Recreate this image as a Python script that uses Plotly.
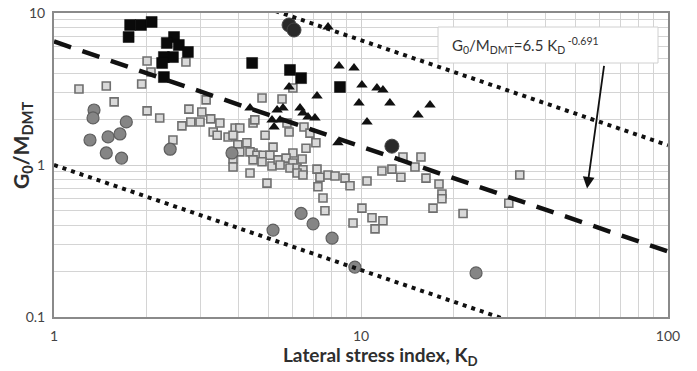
import math
import numpy as np
import plotly.graph_objects as go

# Lateral stress index K_D and stiffness ratio G0/M_DMT, per data group
sq_black_kd = [1.77, 1.92, 2.08, 1.75, 2.46, 2.33, 2.55, 2.73, 2.44, 2.28, 2.25, 2.28,
               4.42, 5.87, 6.38, 8.54]
sq_black_g = [8.34, 8.34, 8.73, 6.95, 6.95, 6.35, 6.16, 5.54, 5.13, 5.13, 4.69, 3.79,
              4.69, 4.22, 3.73, 3.26]

tri_kd = [7.81, 8.48, 9.49, 10.07, 11.27, 11.79, 9.85, 12.42, 16.78, 15.34, 10.46, 7.19,
          5.83, 4.35, 5.33, 5.57, 6.33, 6.47, 6.72, 7.08, 5.13, 5.45, 5.21, 8.41]
tri_g = [8.09, 4.48, 4.35, 3.36, 3.21, 3.11, 2.56, 2.56, 2.48, 2.13, 1.92, 2.84,
         3.26, 2.37, 2.30, 2.37, 2.37, 2.20, 2.07, 2.04, 1.98, 1.98, 1.78, 1.40]

circ_gray_kd = [1.35, 1.34, 1.72, 1.31, 1.50, 1.64, 1.48, 1.66, 2.39, 3.80,
                6.38, 6.98, 5.17, 8.05, 9.55, 23.7]
circ_gray_g = [2.30, 2.04, 1.92, 1.46, 1.53, 1.60, 1.20, 1.11, 1.27, 1.20,
               0.48, 0.41, 0.373, 0.33, 0.213, 0.195]

circ_dark_kd = [5.83, 6.05, 12.61]
circ_dark_g = [8.34, 7.73, 1.33]

sq_open_kd = [1.206, 1.48, 1.57, 1.93, 2.01, 2.07, 2.69, 2.01, 2.21, 2.75, 3.13, 3.03,
              2.61, 2.44, 2.79, 2.99, 3.24, 3.47, 3.30, 3.40, 3.69, 3.89, 4.03, 3.83,
              4.25, 4.45, 4.76, 5.53, 6.00, 5.83, 5.17, 4.87, 5.74, 6.52, 6.82, 7.13,
              6.62, 6.00, 6.43, 4.45, 3.97, 4.03, 4.35, 4.58, 4.80, 5.05, 3.83, 3.83,
              4.45, 4.76, 5.13, 5.37, 5.70, 6.00, 5.45, 5.87, 6.19, 6.47, 6.19, 6.47,
              4.35, 4.94, 7.19, 7.35, 7.81, 8.23, 8.87, 9.21, 7.24, 7.52, 7.63, 10.46,
              10.07, 9.42, 10.86, 11.79, 11.11, 13.70, 15.68, 11.70, 12.61, 14.99, 13.49,
              16.28, 17.95, 18.35, 18.35, 17.16, 21.5, 30.3, 32.9, 4.51]
sq_open_g = [3.16, 3.31, 2.60, 3.41, 4.83, 4.09, 4.76, 2.27, 2.04, 2.33, 2.68, 2.23,
             1.81, 1.46, 1.92, 1.92, 2.01, 1.89, 1.65, 1.57, 1.53, 1.75, 1.75, 1.57,
             1.40, 1.89, 2.76, 2.72, 3.21, 1.65, 1.31, 1.57, 1.89, 1.78, 1.62, 1.40,
             1.29, 1.20, 1.095, 1.20, 1.36, 1.22, 1.22, 1.16, 1.16, 1.16, 1.095, 0.97,
             1.08, 1.05, 0.985, 1.08, 1.11, 1.03, 1.0, 0.955, 0.955, 0.93, 0.886, 0.86,
             0.886, 0.76, 0.94, 0.83, 0.86, 0.847, 0.82, 0.73, 0.72, 0.607, 0.50, 0.785,
             0.52, 0.415, 0.45, 0.43, 0.38, 1.13, 1.13, 0.914, 0.94, 0.97, 0.83,
             0.82, 0.75, 0.644, 0.60, 0.52, 0.48, 0.56, 0.86, 1.98]

# Correlation G0/M_DMT = 6.5 K_D^-0.691 and its bounding envelopes
fit_coef = 6.5
fit_exp = -0.691
upper_coef = 32.5
lower_coef = 1.0

kd_line = np.logspace(0, 2, 200)

fig = go.Figure()

fig.add_trace(go.Scatter(
    x=sq_open_kd, y=sq_open_g, mode="markers",
    marker=dict(symbol="square", size=8, color="#d9d9d9",
                line=dict(color="#6f6f6f", width=1.6))))
fig.add_trace(go.Scatter(
    x=circ_gray_kd, y=circ_gray_g, mode="markers",
    marker=dict(symbol="circle", size=12, color="#858585",
                line=dict(color="#5f5f5f", width=1.2))))
fig.add_trace(go.Scatter(
    x=tri_kd, y=tri_g, mode="markers",
    marker=dict(symbol="triangle-up", size=10, color="#111111",
                line=dict(color="#111111", width=0))))
fig.add_trace(go.Scatter(
    x=sq_black_kd, y=sq_black_g, mode="markers",
    marker=dict(symbol="square", size=11, color="#0a0a0a",
                line=dict(color="#0a0a0a", width=0.5))))
fig.add_trace(go.Scatter(
    x=circ_dark_kd, y=circ_dark_g, mode="markers",
    marker=dict(symbol="circle", size=14, color="#2a2a2a",
                line=dict(color="#444444", width=1))))

fig.add_trace(go.Scatter(
    x=kd_line, y=upper_coef * kd_line ** fit_exp, mode="lines",
    line=dict(color="#111111", width=4, dash="4px,5px")))
fig.add_trace(go.Scatter(
    x=kd_line, y=lower_coef * kd_line ** fit_exp, mode="lines",
    line=dict(color="#111111", width=4, dash="4px,5px")))
fig.add_trace(go.Scatter(
    x=kd_line, y=fit_coef * kd_line ** fit_exp, mode="lines",
    line=dict(color="#111111", width=4.5, dash="18px,12px")))

minor_x = [2, 3, 4, 5, 6, 7, 8, 9, 20, 30, 40, 50, 60, 70, 80, 90]
minor_y = [0.2, 0.3, 0.4, 0.5, 0.6, 0.7, 0.8, 0.9, 2, 3, 4, 5, 6, 7, 8, 9]

font_family = "Lato, Open Sans, sans-serif"

fig.update_xaxes(
    type="log", range=[0, 2], automargin=False,
    tickvals=[1, 10, 100], ticktext=["1", "10", "100"],
    ticks="", ticklabelstandoff=5,
    tickfont=dict(size=14, color="#444444", family=font_family),
    showgrid=True, gridcolor="#cfcfcf", gridwidth=1,
    minor=dict(tickvals=minor_x, showgrid=True, gridcolor="#d4d4d4", gridwidth=1, ticks=""),
    showline=True, linecolor="#8a8a8a", linewidth=2, mirror=True,
    zeroline=False,
)
fig.update_yaxes(
    type="log", range=[-1, 1], automargin=False,
    tickvals=[0.1, 1, 10], ticktext=["0.1", "1", "10"],
    ticks="", ticklabelstandoff=4,
    tickfont=dict(size=14, color="#444444", family=font_family),
    showgrid=True, gridcolor="#cfcfcf", gridwidth=1,
    minor=dict(tickvals=minor_y, showgrid=True, gridcolor="#d4d4d4", gridwidth=1, ticks=""),
    showline=True, linecolor="#8a8a8a", linewidth=2, mirror=True,
    zeroline=False,
)

# Axis titles
fig.add_annotation(
    xref="paper", yref="paper", x=(380 - 54) / 614, y=(317 - 356) / 304,
    xanchor="center", yanchor="middle", showarrow=False,
    text="<b>Lateral stress index, K<sub>D</sub></b>",
    font=dict(size=19, color="#2e2e2e", family=font_family))
fig.add_annotation(
    xref="paper", yref="paper", x=(22 - 54) / 614, y=(317 - 146) / 304,
    xanchor="center", yanchor="middle", showarrow=False, textangle=-90,
    text="<b>G<sub>0</sub>/M<sub>DMT</sub></b>",
    font=dict(size=21, color="#2e2e2e", family=font_family))

# Equation box with arrow pointing at the fitted line
fig.add_shape(type="rect", xref="paper", yref="paper",
              x0=(438 - 54) / 614, x1=(658 - 54) / 614,
              y0=(317 - 63) / 304, y1=(317 - 27) / 304,
              line=dict(color="#d0d0d0", width=1), fillcolor="white", layer="above")
fig.add_annotation(
    xref="paper", yref="paper",
    x=(525 - 54) / 614, y=(317 - 45) / 304,
    xanchor="center", yanchor="middle",
    text="G<sub>0</sub>/M<sub>DMT</sub>=6.5 K<sub>D</sub><sup> -0.691</sup>",
    showarrow=False, font=dict(size=15, color="#333333", family=font_family))
fig.add_annotation(
    x=math.log10(54.5), y=math.log10(0.70),
    ax=math.log10(62.0), ay=math.log10(4.6), axref="x", ayref="y",
    text="", showarrow=True, arrowhead=2, arrowsize=1.3, arrowwidth=1.8,
    arrowcolor="#111111")

fig.update_layout(
    width=697, height=371,
    margin=dict(l=54, r=29, t=13, b=54),
    paper_bgcolor="white", plot_bgcolor="white",
    showlegend=False,
)

fig.write_html("out.html")
